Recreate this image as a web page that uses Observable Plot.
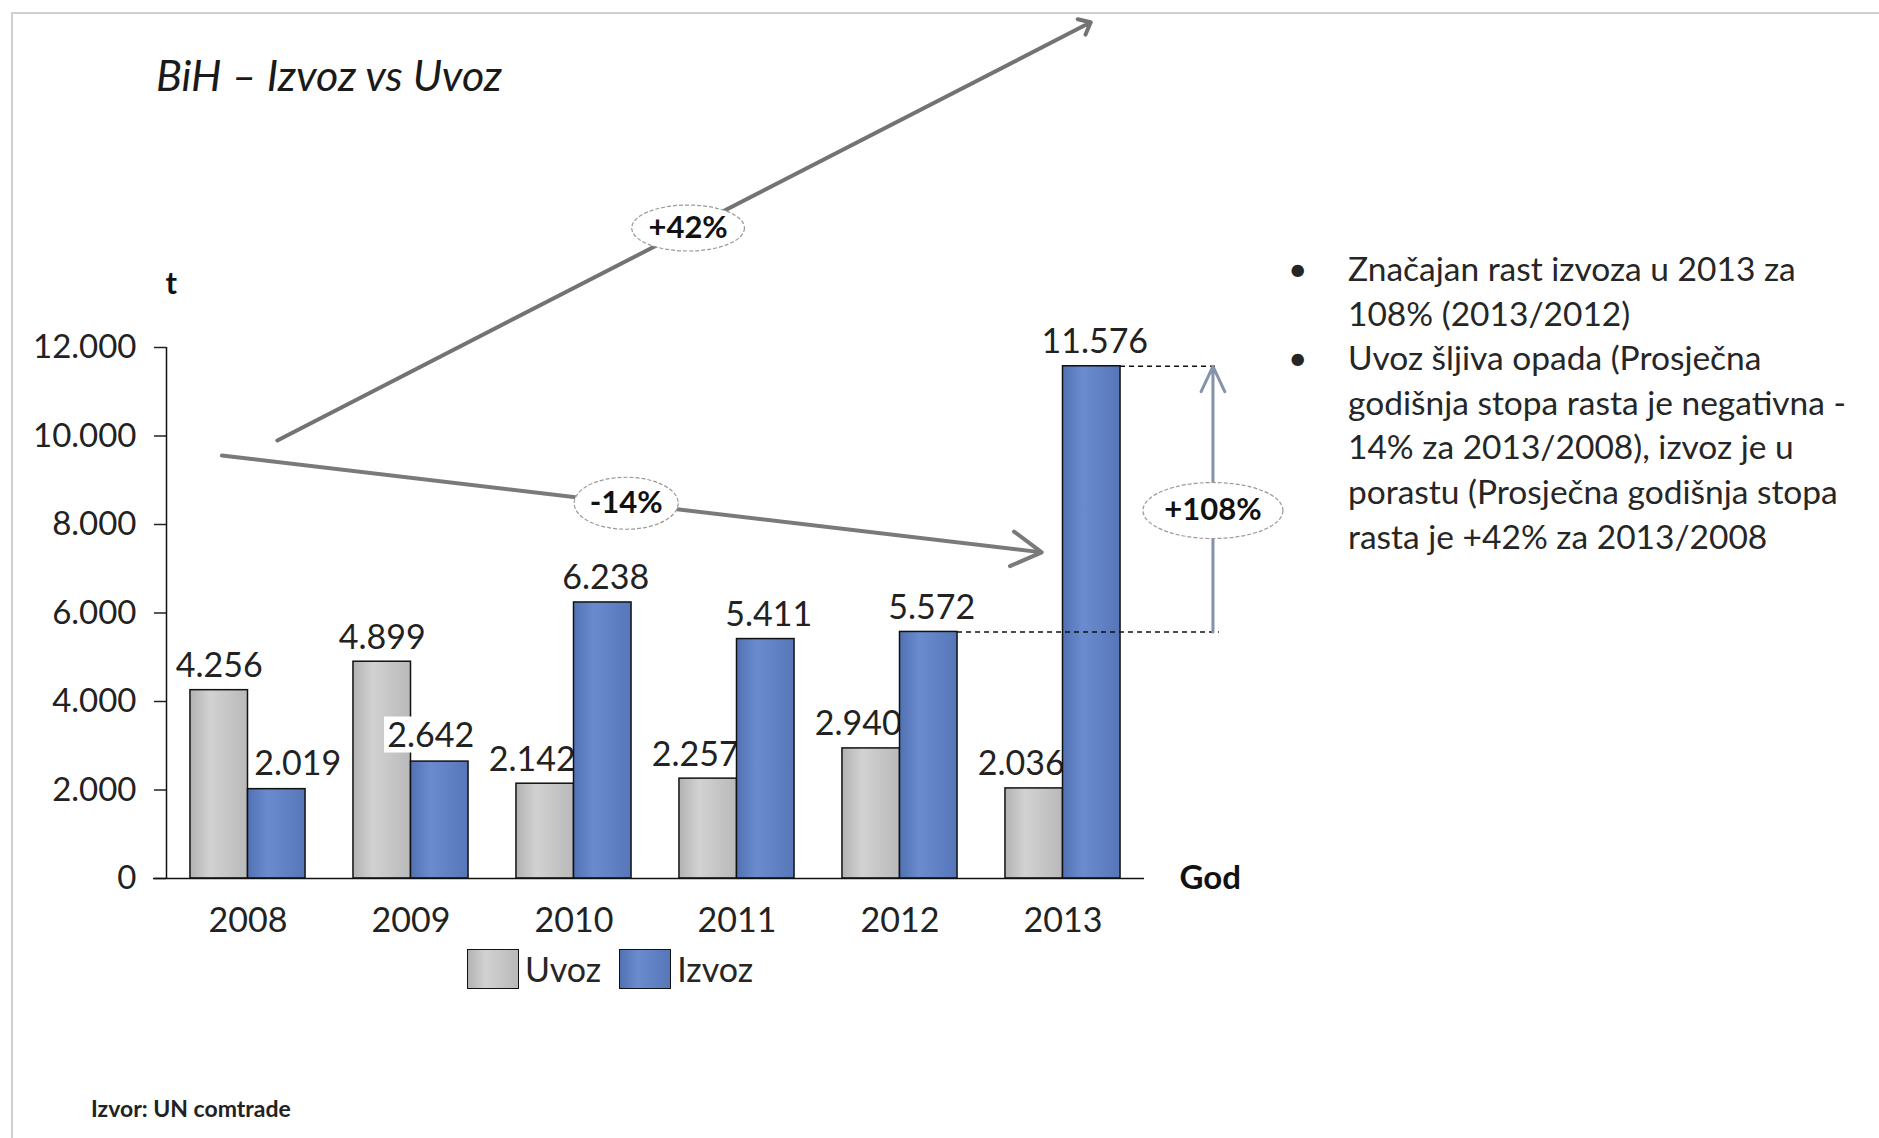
<!DOCTYPE html>
<html>
<head>
<meta charset="utf-8">
<script src="https://cdn.jsdelivr.net/npm/d3@7"></script>
<script src="https://cdn.jsdelivr.net/npm/@observablehq/plot@0.6"></script>
<style>
  body { margin: 0; background: #fff; }
  #page { position: relative; width: 1879px; height: 1138px; overflow: hidden; font-family: Lato, "Open Sans", sans-serif; color: #222; background: #fff; }
  .frame { position: absolute; left: 11px; top: 12px; width: 1900px; height: 1200px; border-left: 2px solid #d0d0d0; border-top: 2px solid #d0d0d0; }
  #title { position: absolute; left: 156px; top: 48px; font-size: 43px; font-style: italic; color: #1a1a1a; white-space: nowrap; line-height: 54px; }
  #chart { position: absolute; left: 0; top: 0; }
  #notes { position: absolute; left: 1286px; top: 246px; font-size: 33.5px; line-height: 44.6px; color: #262626; white-space: nowrap; }
  #notes .item { display: flex; }
  #notes .bullet { width: 60px; flex: none; text-align: left; padding-left: 2px; }
  #legend { position: absolute; left: 467px; top: 948px; display: flex; align-items: center; font-size: 34px; color: #262626; }
  #legend .sw { width: 50px; height: 38px; border: 1.5px solid #111; margin-right: 6px; }
  #legend .lab { margin-right: 18px; }
  #caption { position: absolute; left: 91px; top: 1094px; font-size: 23px; font-weight: bold; color: #222; }
</style>
</head>
<body>
<svg width="0" height="0" style="position:absolute">
  <defs>
    <linearGradient id="gUvoz" x1="0" x2="1" y1="0" y2="0">
      <stop offset="0" stop-color="#b2b2b2"/>
      <stop offset="0.35" stop-color="#d2d2d2"/>
      <stop offset="1" stop-color="#b9b9b9"/>
    </linearGradient>
    <linearGradient id="gIzvoz" x1="0" x2="1" y1="0" y2="0">
      <stop offset="0" stop-color="#5171b2"/>
      <stop offset="0.35" stop-color="#6a8ccf"/>
      <stop offset="1" stop-color="#5676b8"/>
    </linearGradient>
  </defs>
</svg>
<div id="page">
  <div class="frame"></div>
  <div id="title">BiH – Izvoz vs Uvoz</div>
  <div id="chart"></div>
  <div id="notes">
    <div class="item"><span class="bullet">•</span><span>Značajan rast izvoza u 2013 za<br>108% (2013/2012)</span></div>
    <div class="item"><span class="bullet">•</span><span>Uvoz šljiva opada (Prosječna<br>godišnja stopa rasta je negativna -<br>14% za 2013/2008), izvoz je u<br>porastu (Prosječna godišnja stopa<br>rasta je +42% za 2013/2008</span></div>
  </div>
  <div id="legend">
    <div class="sw" style="background:linear-gradient(90deg,#b2b2b2,#d2d2d2 35%,#b9b9b9)"></div><span class="lab">Uvoz</span>
    <div class="sw" style="background:linear-gradient(90deg,#5171b2,#6a8ccf 35%,#5676b8)"></div><span class="lab">Izvoz</span>
  </div>
  <div id="caption">Izvor: UN comtrade</div>
</div>
<script>
// ---- data ----
const years = [2008, 2009, 2010, 2011, 2012, 2013];
const uvoz  = [4256, 4899, 2142, 2257, 2940, 2036];
const izvoz = [2019, 2642, 6238, 5411, 5572, 11576];
const yTicks = [0, 2000, 4000, 6000, 8000, 10000, 12000];
const seriesNames = ["Uvoz", "Izvoz"];

// annotation arrows (data units: year, tonnes)
const trendLabels = ["+42%", "-14%"];
const trendX1 = [2008.18, 2007.84];
const trendY1 = [9900, 9560];
const trendX2 = [2013.17, 2012.87];
const trendY2 = [19350, 7370];
const trendLabelX = [2010.70, 2010.32];
const trendLabelY = [14700, 8480];

const jumpLabel = "+108%";
const jumpFrom = 5572;   // 2012 izvoz
const jumpTo = 11576;    // 2013 izvoz
const jumpX = 2013.92;
const jumpLabelY = 8316;
const dashEndX = 2013.96;

// ---- build ----
const rows = years.map((year, i) => ({year, uvoz: uvoz[i], izvoz: izvoz[i]}));
const fmt = d3.formatLocale({decimal: ",", thousands: ".", grouping: [3], currency: ["", ""]}).format(",d");
const barW = 0.353; // bar width in year units

const trends = trendLabels.map((label, i) => ({label, x1: trendX1[i], y1: trendY1[i], x2: trendX2[i], y2: trendY2[i], lx: trendLabelX[i], ly: trendLabelY[i]}));

function ellipse(aspect) {
  return {
    draw(ctx, size) {
      const ry = Math.sqrt(size / Math.PI), rx = ry * aspect, k = 0.5523;
      ctx.moveTo(rx, 0);
      ctx.bezierCurveTo(rx, ry * k, rx * k, ry, 0, ry);
      ctx.bezierCurveTo(-rx * k, ry, -rx, ry * k, -rx, 0);
      ctx.bezierCurveTo(-rx, -ry * k, -rx * k, -ry, 0, -ry);
      ctx.bezierCurveTo(rx * k, -ry, rx, -ry * k, rx, 0);
      ctx.closePath();
    }
  };
}
function box(aspect) {
  return {
    draw(ctx, size) {
      const h = Math.sqrt(size / Math.PI), w = h * aspect;
      ctx.rect(-w, -h, 2 * w, 2 * h);
    }
  };
}
const ellStyle = {fill: "white", stroke: "#9a9a9a", strokeWidth: 1.2, strokeDasharray: "4,2"};
const labelStyle = {lineAnchor: "bottom", fontSize: 34, fill: "#222"};
const smallIzvoz = d => d.izvoz < d.uvoz && d.year !== years[0];

const chart = Plot.plot({
  width: 1290,
  height: 940,
  marginLeft: 166,
  marginRight: 146,
  marginTop: 347,
  marginBottom: 62,
  style: {fontFamily: "Lato, 'Open Sans', sans-serif", fontSize: "33px", color: "#222", background: "transparent", overflow: "visible"},
  x: {type: "linear", domain: [2007.5, 2013.5]},
  y: {domain: [0, 12000]},
  marks: [
    Plot.axisY({ticks: yTicks, tickFormat: fmt, tickSize: 12, tickPadding: 18, strokeWidth: 1.5, label: null, fontSize: 33}),
    Plot.axisX({ticks: years, tickFormat: d => String(d), tickSize: 0, tickPadding: 29, label: null, fontSize: 34}),
    // Uvoz
    Plot.rectY(rows, {x1: d => d.year - barW, x2: d => d.year, y: "uvoz", fill: "url(#gUvoz)", stroke: "#111", strokeWidth: 1.5, title: d => `${seriesNames[0]} ${d.year}: ${fmt(d.uvoz)}`}),
    Plot.text(rows, {filter: d => d.uvoz >= d.izvoz, x: d => d.year - barW / 2, y: "uvoz", text: d => fmt(d.uvoz), dy: -13, ...labelStyle}),
    Plot.text(rows, {filter: d => d.uvoz < d.izvoz, x: d => d.year - barW / 2, y: "uvoz", text: d => fmt(d.uvoz), dy: -13, dx: -13, ...labelStyle}),
    // Izvoz
    Plot.rectY(rows, {x1: d => d.year, x2: d => d.year + barW, y: "izvoz", fill: "url(#gIzvoz)", stroke: "#111", strokeWidth: 1.5, title: d => `${seriesNames[1]} ${d.year}: ${fmt(d.izvoz)}`}),
    Plot.text(rows, {filter: d => d.izvoz >= d.uvoz, x: d => d.year + barW / 2, y: "izvoz", text: d => fmt(d.izvoz), dy: -13, dx: 3, ...labelStyle}),
    Plot.text(rows, {filter: d => d.izvoz < d.uvoz && d.year === years[0], x: d => d.year + barW / 2, y: "izvoz", text: d => fmt(d.izvoz), dy: -14, dx: 21, ...labelStyle}),
    // white label box behind the 2009 export label, then the label itself
    Plot.dot(rows, {filter: smallIzvoz, x: d => d.year + barW / 2, y: "izvoz", dx: -9, dy: -27, r: 18, symbol: box(2.6), fill: "white", stroke: "none"}),
    Plot.text(rows, {filter: smallIzvoz, x: d => d.year + barW / 2, y: "izvoz", text: d => fmt(d.izvoz), dy: -15, dx: -9, ...labelStyle}),
    // axis lines
    Plot.ruleX([2007.5], {y1: 0, y2: 12000, stroke: "#111", strokeWidth: 1.5}),
    Plot.ruleY([0], {stroke: "#111", strokeWidth: 1.5, insetLeft: -13}),
    // dashed references for +108%
    Plot.ruleY([jumpFrom], {x1: rows[4].year + barW, x2: dashEndX, stroke: "#111", strokeWidth: 1.4, strokeDasharray: "5,4"}),
    Plot.ruleY([jumpTo], {x1: rows[5].year + barW, x2: dashEndX, stroke: "#111", strokeWidth: 1.4, strokeDasharray: "5,4"}),
    Plot.arrow([{x: jumpX, y1: jumpFrom, y2: jumpTo}], {x1: "x", x2: "x", y1: "y1", y2: "y2", stroke: "#8593aa", strokeWidth: 3, headLength: 14, headAngle: 50}),
    // trend arrows
    Plot.arrow([trends[0]], {x1: "x1", y1: "y1", x2: "x2", y2: "y2", stroke: "#737373", strokeWidth: 4, headLength: 5, headAngle: 80}),
    Plot.arrow([trends[1]], {x1: "x1", y1: "y1", x2: "x2", y2: "y2", stroke: "#7a7a7a", strokeWidth: 4, headLength: 13, headAngle: 60}),
    // ellipses + labels
    Plot.dot([trends[0]], {x: "lx", y: "ly", r: 23, symbol: ellipse(2.45), ...ellStyle}),
    Plot.dot([trends[1]], {x: "lx", y: "ly", r: 26, symbol: ellipse(2.0), ...ellStyle}),
    Plot.dot([{x: jumpX, y: jumpLabelY}], {x: "x", y: "y", r: 28, symbol: ellipse(2.5), ...ellStyle}),
    Plot.text(trends, {x: "lx", y: "ly", text: "label", fontWeight: "bold", fontSize: 31, fill: "#111"}),
    Plot.text([{x: jumpX, y: jumpLabelY}], {x: "x", y: "y", text: () => jumpLabel, fontWeight: "bold", fontSize: 31, fill: "#111"}),
    // axis titles
    Plot.text(["t"], {frameAnchor: "top-left", dy: -63, dx: -1, lineAnchor: "middle", fontWeight: "bold", fontSize: 31, fill: "#111"}),
    Plot.text(["God"], {frameAnchor: "bottom-right", dx: 35, textAnchor: "start", lineAnchor: "middle", fontWeight: "bold", fontSize: 33, fill: "#111"})
  ]
});
document.getElementById("chart").appendChild(chart);
</script>
</body>
</html>
